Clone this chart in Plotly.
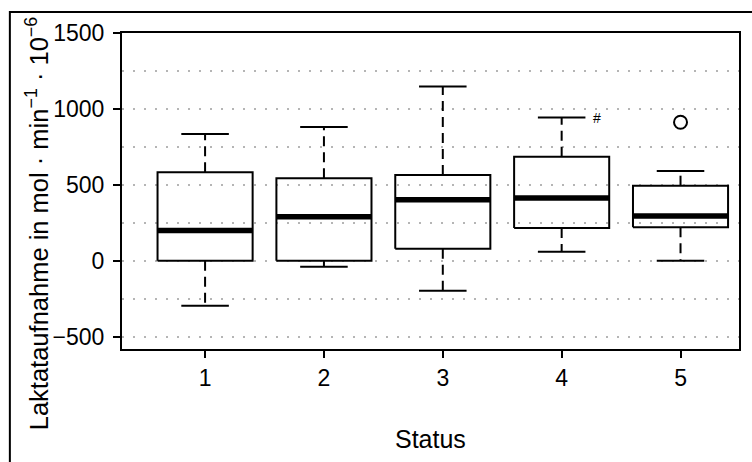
import plotly.graph_objects as go

# Lactate uptake per status group (five-number summaries)
status = [1, 2, 3, 4, 5]
lower_whisker = [-297, -40, -198, 59, 0]
q1 = [0, 0, 79, 216, 220]
median = [198, 290, 402, 413, 295]
q3 = [583, 543, 565, 684, 494]
upper_whisker = [835, 881, 1147, 943, 591]

# outliers
outlier_x = [5]
outlier_y = [912]

# marked group
mark_x = 4
mark_text = "#"

y_ticks = [-500, 0, 500, 1000, 1500]
x_ticks = status

W, H = 752, 462
ML, MR, MT, MB = 122, 11, 33, 113
HALF = 0.4      # half box width
CAP = 0.2       # half staple width

box_x, box_y = [], []
med_x, med_y = [], []
wh_x, wh_y = [], []
cap_x, cap_y = [], []
for s, lo, a, m, b, hi in zip(status, lower_whisker, q1, median, q3, upper_whisker):
    box_x += [s - HALF, s + HALF, s + HALF, s - HALF, s - HALF, None]
    box_y += [a, a, b, b, a, None]
    med_x += [s - HALF, s + HALF, None]
    med_y += [m, m, None]
    wh_x += [s, s, None, s, s, None]
    wh_y += [b, hi, None, a, lo, None]
    cap_x += [s - CAP, s + CAP, None, s - CAP, s + CAP, None]
    cap_y += [hi, hi, None, lo, lo, None]

fig = go.Figure()
fig.add_trace(go.Scatter(x=wh_x, y=wh_y, mode="lines",
                         line=dict(color="black", width=2, dash="10px,6px"),
                         hoverinfo="skip"))
fig.add_trace(go.Scatter(x=cap_x, y=cap_y, mode="lines",
                         line=dict(color="black", width=2), hoverinfo="skip"))
fig.add_trace(go.Scatter(x=box_x, y=box_y, mode="lines",
                         line=dict(color="black", width=2), hoverinfo="skip"))
fig.add_trace(go.Scatter(x=med_x, y=med_y, mode="lines",
                         line=dict(color="black", width=5.5), hoverinfo="skip"))
fig.add_trace(go.Scatter(x=outlier_x, y=outlier_y, mode="markers",
                         marker=dict(symbol="circle-open", size=13,
                                     color="black", line=dict(width=2)),
                         hoverinfo="skip"))

mark_y = upper_whisker[status.index(mark_x)]
fig.add_annotation(x=mark_x + CAP + 0.05, y=mark_y, text=mark_text,
                   showarrow=False, xanchor="left", yanchor="middle",
                   font=dict(size=14, color="black"))

pw = W - ML - MR
ph = H - MT - MB
FONT = "Liberation Sans, Arial, sans-serif"

# axis titles
fig.add_annotation(x=0.5, xref="paper", y=(MT + ph - 439) / ph, yref="paper",
                   text="Status", showarrow=False, xanchor="center",
                   yanchor="middle", font=dict(size=25, color="black"))
fig.add_annotation(x=(37 - ML) / pw, xref="paper", y=(MT + ph - 223) / ph,
                   yref="paper",
                   text="Laktataufnahme in mol \u00b7 min<sup>\u22121</sup> \u00b7 10<sup>\u22126</sup>",
                   showarrow=False, textangle=-90, xanchor="center",
                   yanchor="middle", font=dict(size=25.5, color="black"))

# outer frame
fig.add_shape(type="rect", xref="paper", yref="paper",
              x0=(9.5 - ML) / pw, x1=1.2, y0=-0.6, y1=(MT + ph - 12) / ph,
              line=dict(color="black", width=2), fillcolor="rgba(0,0,0,0)")

fig.update_layout(
    width=W, height=H,
    margin=dict(l=ML, r=MR, t=MT, b=MB),
    paper_bgcolor="white", plot_bgcolor="white",
    showlegend=False,
    font=dict(family=FONT, size=23, color="black"),
)
fig.update_xaxes(range=[0.301, 5.492], tickmode="array", tickvals=x_ticks,
                 ticks="outside", ticklen=7, tickwidth=2, tickcolor="black",
                 showline=True, linecolor="black", linewidth=2, mirror=True,
                 showgrid=False, zeroline=False, tickfont=dict(size=23))
fig.update_yaxes(range=[-582, 1500], tickmode="array", tickvals=y_ticks,
                 ticks="outside", ticklen=7, tickwidth=2, tickcolor="black",
                 ticklabelstandoff=4,
                 showline=True, linecolor="black", linewidth=2, mirror=True,
                 showgrid=True, gridcolor="#b5b5b5", gridwidth=1.5,
                 griddash="1.5px,9.5px",
                 minor=dict(dtick=250, tick0=0, showgrid=True,
                            gridcolor="#b5b5b5", gridwidth=1.5,
                            griddash="1.5px,9.5px", ticks=""),
                 zeroline=False, tickfont=dict(size=23))

fig.write_html("out.html")
